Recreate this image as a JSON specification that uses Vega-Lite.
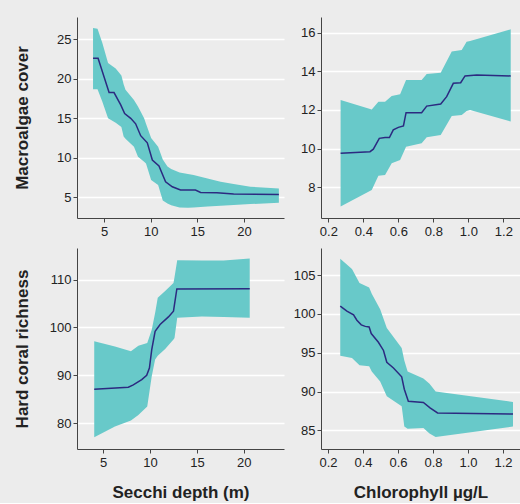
{
  "$schema": "https://vega.github.io/schema/vega-lite/v6.json",
  "background": "#ececec",
  "padding": {"left": 13, "top": 17, "right": 0, "bottom": 3},
  "datasets": {
    "p1band": [
      {"x": 3.82, "lo": 18.67, "hi": 26.4}, {"x": 4.3, "lo": 18.67, "hi": 26.3}, {"x": 4.82, "lo": 17.1, "hi": 24.5},
      {"x": 5.43, "lo": 15.0, "hi": 22.0}, {"x": 6.25, "lo": 14.45, "hi": 21.3}, {"x": 6.86, "lo": 13.9, "hi": 20.4},
      {"x": 7.1, "lo": 12.7, "hi": 19.3}, {"x": 7.3, "lo": 12.4, "hi": 18.6}, {"x": 8.21, "lo": 11.4, "hi": 17.3},
      {"x": 8.64, "lo": 10.15, "hi": 16.5}, {"x": 9.3, "lo": 9.5, "hi": 15.0}, {"x": 9.5, "lo": 9.3, "hi": 14.3},
      {"x": 10.05, "lo": 7.2, "hi": 12.5}, {"x": 10.8, "lo": 6.56, "hi": 11.4}, {"x": 11.3, "lo": 4.6, "hi": 9.8},
      {"x": 11.8, "lo": 4.24, "hi": 8.9}, {"x": 12.2, "lo": 4.0, "hi": 8.6}, {"x": 13.1, "lo": 3.73, "hi": 8.15},
      {"x": 14.0, "lo": 3.69, "hi": 7.95}, {"x": 14.6, "lo": 3.72, "hi": 7.83}, {"x": 16.1, "lo": 3.85, "hi": 7.4},
      {"x": 17.5, "lo": 3.95, "hi": 6.98}, {"x": 18.9, "lo": 4.05, "hi": 6.69}, {"x": 20.7, "lo": 4.16, "hi": 6.35},
      {"x": 23.75, "lo": 4.32, "hi": 6.14}
    ],
    "p1line": [
      {"x": 3.82, "y": 22.6}, {"x": 4.36, "y": 22.6}, {"x": 5.54, "y": 18.25}, {"x": 6.07, "y": 18.25},
      {"x": 6.79, "y": 16.7}, {"x": 7.21, "y": 15.6}, {"x": 7.86, "y": 15.0}, {"x": 8.39, "y": 14.3},
      {"x": 8.93, "y": 12.8}, {"x": 9.64, "y": 11.9}, {"x": 10.18, "y": 9.73}, {"x": 10.89, "y": 8.97},
      {"x": 11.6, "y": 6.98}, {"x": 12.32, "y": 6.35}, {"x": 13.2, "y": 5.93}, {"x": 14.8, "y": 5.93},
      {"x": 15.36, "y": 5.63}, {"x": 17.1, "y": 5.6}, {"x": 18.9, "y": 5.42}, {"x": 23.75, "y": 5.38}
    ],
    "p2band": [
      {"x": 0.27, "lo": 7.0, "hi": 12.52}, {"x": 0.448, "lo": 7.86, "hi": 12.03}, {"x": 0.486, "lo": 8.6, "hi": 12.43},
      {"x": 0.524, "lo": 8.64, "hi": 12.43}, {"x": 0.562, "lo": 9.24, "hi": 12.72}, {"x": 0.61, "lo": 9.41, "hi": 12.81},
      {"x": 0.644, "lo": 10.1, "hi": 13.55}, {"x": 0.733, "lo": 10.28, "hi": 13.55}, {"x": 0.762, "lo": 10.59, "hi": 13.86},
      {"x": 0.842, "lo": 10.71, "hi": 13.93}, {"x": 0.905, "lo": 11.69, "hi": 15.02}, {"x": 0.962, "lo": 11.74, "hi": 15.1},
      {"x": 0.99, "lo": 11.95, "hi": 15.53}, {"x": 1.01, "lo": 12.0, "hi": 15.57}, {"x": 1.242, "lo": 11.4, "hi": 16.17}
    ],
    "p2line": [
      {"x": 0.27, "y": 9.76}, {"x": 0.438, "y": 9.84}, {"x": 0.457, "y": 9.97}, {"x": 0.491, "y": 10.53},
      {"x": 0.524, "y": 10.57}, {"x": 0.549, "y": 10.57}, {"x": 0.571, "y": 10.97}, {"x": 0.6, "y": 11.1},
      {"x": 0.629, "y": 11.17}, {"x": 0.644, "y": 11.86}, {"x": 0.733, "y": 11.86}, {"x": 0.762, "y": 12.2},
      {"x": 0.842, "y": 12.31}, {"x": 0.876, "y": 12.69}, {"x": 0.914, "y": 13.38}, {"x": 0.956, "y": 13.41},
      {"x": 0.981, "y": 13.76}, {"x": 1.048, "y": 13.81}, {"x": 1.242, "y": 13.76}
    ],
    "p3band": [
      {"x": 4.04, "lo": 77.07, "hi": 97.1}, {"x": 6.25, "lo": 79.3, "hi": 96.0}, {"x": 7.96, "lo": 80.56, "hi": 95.0},
      {"x": 8.75, "lo": 81.7, "hi": 96.2}, {"x": 9.7, "lo": 83.5, "hi": 96.75}, {"x": 10.18, "lo": 89.8, "hi": 99.5},
      {"x": 10.54, "lo": 93.3, "hi": 103.0}, {"x": 10.82, "lo": 94.1, "hi": 106.2}, {"x": 11.61, "lo": 95.5, "hi": 107.6},
      {"x": 12.5, "lo": 97.5, "hi": 109.3}, {"x": 12.61, "lo": 97.8, "hi": 110.5}, {"x": 12.9, "lo": 102.0, "hi": 114.05},
      {"x": 15.54, "lo": 102.3, "hi": 114.0}, {"x": 17.86, "lo": 102.2, "hi": 114.0}, {"x": 20.64, "lo": 102.0, "hi": 114.4}
    ],
    "p3line": [
      {"x": 4.04, "y": 87.1}, {"x": 7.68, "y": 87.5}, {"x": 8.21, "y": 88.0}, {"x": 9.11, "y": 89.1},
      {"x": 9.64, "y": 90.0}, {"x": 9.93, "y": 91.5}, {"x": 10.18, "y": 95.35}, {"x": 10.54, "y": 99.2},
      {"x": 11.07, "y": 100.6}, {"x": 11.96, "y": 102.2}, {"x": 12.5, "y": 103.4}, {"x": 12.86, "y": 108.05},
      {"x": 20.64, "y": 108.1}
    ],
    "p4band": [
      {"x": 0.27, "lo": 94.63, "hi": 107.1}, {"x": 0.337, "lo": 94.33, "hi": 105.8}, {"x": 0.38, "lo": 93.4, "hi": 104.0},
      {"x": 0.435, "lo": 93.26, "hi": 103.4}, {"x": 0.45, "lo": 92.6, "hi": 102.6}, {"x": 0.498, "lo": 91.3, "hi": 100.6},
      {"x": 0.536, "lo": 89.4, "hi": 98.2}, {"x": 0.621, "lo": 88.1, "hi": 95.6}, {"x": 0.636, "lo": 85.5, "hi": 94.0},
      {"x": 0.655, "lo": 85.2, "hi": 92.6}, {"x": 0.745, "lo": 85.3, "hi": 91.7}, {"x": 0.78, "lo": 84.6, "hi": 91.0},
      {"x": 0.815, "lo": 84.14, "hi": 90.0}, {"x": 1.257, "lo": 85.5, "hi": 88.66}
    ],
    "p4line": [
      {"x": 0.27, "y": 101.0}, {"x": 0.308, "y": 100.36}, {"x": 0.346, "y": 99.9}, {"x": 0.365, "y": 99.2},
      {"x": 0.39, "y": 98.6}, {"x": 0.413, "y": 98.4}, {"x": 0.435, "y": 98.33}, {"x": 0.447, "y": 97.47},
      {"x": 0.488, "y": 96.35}, {"x": 0.517, "y": 95.3}, {"x": 0.536, "y": 93.77}, {"x": 0.574, "y": 93.04},
      {"x": 0.621, "y": 91.9}, {"x": 0.636, "y": 90.3}, {"x": 0.659, "y": 88.74}, {"x": 0.745, "y": 88.6},
      {"x": 0.783, "y": 87.9}, {"x": 0.826, "y": 87.24}, {"x": 1.257, "y": 87.1}
    ]
  },
  "columns": 2,
  "bounds": "flush",
  "spacing": {"row": 30, "column": 37},
  "concat": [
    {
      "width": 207, "height": 201,
      "encoding": {
        "x": {"field": "x", "type": "quantitative", "scale": {"domain": [2.1, 24.3], "nice": false, "zero": false},
              "axis": {"title": null, "values": [5, 10, 15, 20], "minExtent": 20, "maxExtent": 20}}
      },
      "layer": [
        {"data": {"name": "p1band"}, "mark": {"type": "area", "color": "#68c9c9", "opacity": 1},
         "encoding": {"y": {"field": "lo", "type": "quantitative", "scale": {"domain": [2.4, 27.8], "nice": false, "zero": false},
                            "axis": {"title": "Macroalgae cover", "values": [5, 10, 15, 20, 25], "minExtent": 30, "maxExtent": 30, "titlePadding": 16}},
                      "y2": {"field": "hi"}}},
        {"data": {"name": "p1line"}, "mark": {"type": "line", "color": "#2c2a80", "strokeWidth": 1.5},
         "encoding": {"y": {"field": "y", "type": "quantitative",
                            "axis": {"title": "Macroalgae cover", "values": [5, 10, 15, 20, 25], "minExtent": 30, "maxExtent": 30, "titlePadding": 16}}}}
      ]
    },
    {
      "width": 199, "height": 201,
      "encoding": {
        "x": {"field": "x", "type": "quantitative", "scale": {"domain": [0.158, 1.295], "nice": false, "zero": false},
              "axis": {"title": null, "values": [0.2, 0.4, 0.6, 0.8, 1.0, 1.2], "format": ".1f", "minExtent": 20, "maxExtent": 20}}
      },
      "layer": [
        {"data": {"name": "p2band"}, "mark": {"type": "area", "color": "#68c9c9", "opacity": 1},
         "encoding": {"y": {"field": "lo", "type": "quantitative", "scale": {"domain": [6.41, 16.81], "nice": false, "zero": false},
                            "axis": {"title": null, "values": [8, 10, 12, 14, 16]}},
                      "y2": {"field": "hi"}}},
        {"data": {"name": "p2line"}, "mark": {"type": "line", "color": "#2c2a80", "strokeWidth": 1.5},
         "encoding": {"y": {"field": "y", "type": "quantitative", "axis": {"title": null, "values": [8, 10, 12, 14, 16]}}}}
      ]
    },
    {
      "width": 207, "height": 201,
      "encoding": {
        "x": {"field": "x", "type": "quantitative", "scale": {"domain": [2.2, 24.3], "nice": false, "zero": false},
              "axis": {"title": "Secchi depth (m)", "values": [5, 10, 15, 20], "minExtent": 20, "maxExtent": 20, "titlePadding": 15}}
      },
      "layer": [
        {"data": {"name": "p3band"}, "mark": {"type": "area", "color": "#68c9c9", "opacity": 1},
         "encoding": {"y": {"field": "lo", "type": "quantitative", "scale": {"domain": [74.6, 116.6], "nice": false, "zero": false},
                            "axis": {"title": "Hard coral richness", "values": [80, 90, 100, 110], "minExtent": 30, "maxExtent": 30, "titlePadding": 16}},
                      "y2": {"field": "hi"}}},
        {"data": {"name": "p3line"}, "mark": {"type": "line", "color": "#2c2a80", "strokeWidth": 1.5},
         "encoding": {"y": {"field": "y", "type": "quantitative",
                            "axis": {"title": "Hard coral richness", "values": [80, 90, 100, 110], "minExtent": 30, "maxExtent": 30, "titlePadding": 16}}}}
      ]
    },
    {
      "width": 199, "height": 201,
      "encoding": {
        "x": {"field": "x", "type": "quantitative", "scale": {"domain": [0.16, 1.297], "nice": false, "zero": false},
              "axis": {"title": "Chlorophyll µg/L", "values": [0.2, 0.4, 0.6, 0.8, 1.0, 1.2], "format": ".1f", "minExtent": 20, "maxExtent": 20, "titlePadding": 15}}
      },
      "layer": [
        {"data": {"name": "p4band"}, "mark": {"type": "area", "color": "#68c9c9", "opacity": 1},
         "encoding": {"y": {"field": "lo", "type": "quantitative", "scale": {"domain": [82.6, 108.5], "nice": false, "zero": false},
                            "axis": {"title": null, "values": [85, 90, 95, 100, 105]}},
                      "y2": {"field": "hi"}}},
        {"data": {"name": "p4line"}, "mark": {"type": "line", "color": "#2c2a80", "strokeWidth": 1.5},
         "encoding": {"y": {"field": "y", "type": "quantitative", "axis": {"title": null, "values": [85, 90, 95, 100, 105]}}}}
      ]
    }
  ],
  "config": {
    "view": {"stroke": null},
    "axis": {
      "labelFont": "Liberation Sans", "labelFontSize": 13, "labelColor": "#222",
      "titleFont": "Liberation Sans", "titleFontSize": 17, "titleFontWeight": "bold", "titleColor": "#222",
      "domainColor": "#444", "tickColor": "#444", "tickSize": 4, "labelPadding": 2,
      "gridColor": "#ffffff", "gridWidth": 1.5
    },
    "axisX": {"grid": false, "labelPadding": 3},
    "axisY": {"grid": true}
  }
}
